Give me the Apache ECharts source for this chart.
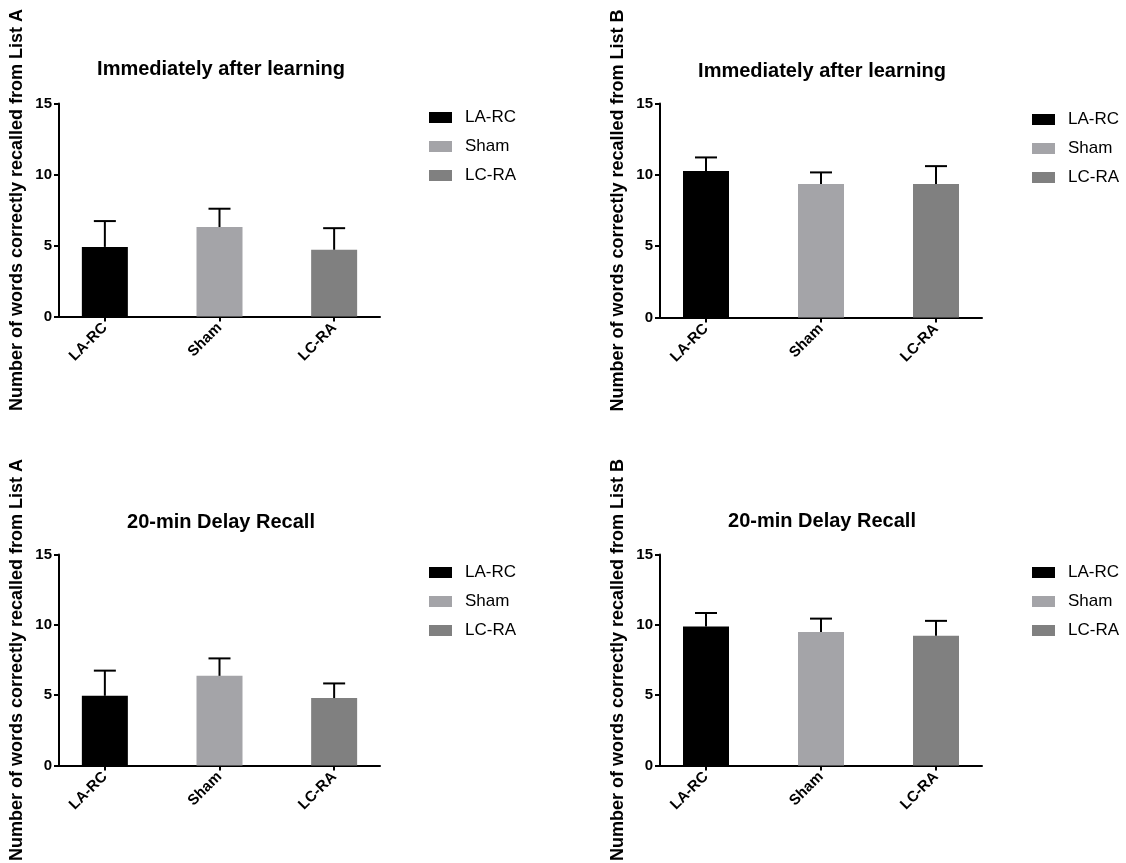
<!DOCTYPE html>
<html>
<head>
<meta charset="utf-8">
<script src="https://cdn.jsdelivr.net/npm/echarts@6/dist/echarts.min.js"></script>
<style>
  html, body { margin: 0; padding: 0; background: #fff; }
  #chart { width: 1126px; height: 863px; }
</style>
</head>
<body>
<div id="chart"></div>
<script>
// ---- data ----
const categories = ['LA-RC', 'Sham', 'LC-RA'];
const yTicks = [0, 5, 10, 15];

const panelTitles = ['Immediately after learning', 'Immediately after learning', '20-min Delay Recall', '20-min Delay Recall'];
const yAxisNames = [
  'Number of words correctly recalled from List A',
  'Number of words correctly recalled from List B',
  'Number of words correctly recalled from List A',
  'Number of words correctly recalled from List B'
];

const listAImmediateMean = [4.9, 6.3, 4.7];
const listAImmediateErr  = [1.82, 1.29, 1.52];
const listBImmediateMean = [10.27, 9.36, 9.36];
const listBImmediateErr  = [0.95, 0.81, 1.25];
const listADelayMean     = [4.95, 6.37, 4.79];
const listADelayErr      = [1.79, 1.24, 1.04];
const listBDelayMean     = [9.88, 9.49, 9.23];
const listBDelayErr      = [0.96, 0.95, 1.05];

const panelMeans = [listAImmediateMean, listBImmediateMean, listADelayMean, listBDelayMean];
const panelErrs  = [listAImmediateErr, listBImmediateErr, listADelayErr, listBDelayErr];

// ---- styling / layout ----
const barColors = ['#000000', '#a4a4a8', '#808080'];
const FONT = '"Liberation Sans", Arial, sans-serif';
const grids = [
  { left: 59,  top: 103.5, width: 321, height: 213 },
  { left: 660, top: 103.5, width: 322, height: 214 },
  { left: 59,  top: 554.5, width: 321, height: 215 },
  { left: 660, top: 554.5, width: 322, height: 215 }
];
const titlePos = [
  { left: 221, top: 59 },
  { left: 822, top: 61 },
  { left: 221, top: 512 },
  { left: 822, top: 511 }
];
const legendPos = [
  { left: 424, top: 104 },
  { left: 1027, top: 106 },
  { left: 424, top: 559 },
  { left: 1027, top: 559 }
];

const chart = echarts.init(document.getElementById('chart'));

const option = {
  backgroundColor: '#ffffff',
  animation: false,
  title: panelTitles.map((t, i) => ({
    text: t,
    left: titlePos[i].left,
    top: titlePos[i].top,
    padding: 0,
    textAlign: 'center',
    textStyle: { fontFamily: FONT, fontWeight: 'bold', fontSize: 20, color: '#000' }
  })),
  legend: legendPos.map(p => ({
    data: categories,
    orient: 'vertical',
    left: p.left,
    top: p.top,
    icon: 'rect',
    itemWidth: 23,
    itemHeight: 11,
    itemGap: 12,
    selectedMode: false,
    textStyle: { fontFamily: FONT, fontSize: 17, color: '#000', padding: [0, 0, 0, 8] }
  })),
  grid: grids.map(g => Object.assign({ containLabel: false }, g)),
  xAxis: grids.map((g, i) => ({
    type: 'value',
    gridIndex: i,
    min: -0.4,
    max: 2.4,
    splitLine: { show: false },
    axisLine: { show: true, onZero: false, lineStyle: { color: '#000', width: 2 } },
    axisTick: { show: true, customValues: [0, 1, 2], length: 5, lineStyle: { color: '#000', width: 2 } },
    axisLabel: {
      customValues: [0, 1, 2],
      formatter: v => categories[Math.round(v)] || '',
      rotate: 45,
      margin: 9,
      fontFamily: FONT, fontWeight: 'bold', fontSize: 15, color: '#000'
    }
  })),
  yAxis: grids.map((g, i) => ({
    type: 'value',
    gridIndex: i,
    min: 0,
    max: 15,
    interval: 5,
    name: yAxisNames[i],
    nameLocation: 'middle',
    nameGap: 33,
    nameTextStyle: { fontFamily: FONT, fontWeight: 'bold', fontSize: 18, color: '#000' },
    splitLine: { show: false },
    axisLine: { show: true, onZero: false, lineStyle: { color: '#000', width: 2 } },
    axisTick: { show: true, length: 5, lineStyle: { color: '#000', width: 2 } },
    axisLabel: { margin: 7, fontFamily: FONT, fontWeight: 'bold', fontSize: 15, color: '#000' }
  })),
  series: []
};

panelMeans.forEach((means, p) => {
  categories.forEach((cat, c) => {
    option.series.push({
      type: 'bar',
      name: cat,
      xAxisIndex: p,
      yAxisIndex: p,
      barWidth: 46,
      barGap: '-100%',
      itemStyle: { color: barColors[c] },
      data: [[c, means[c]]],
      z: 2
    });
  });
  option.series.push({
    type: 'custom',
    name: 'err' + p,
    xAxisIndex: p,
    yAxisIndex: p,
    z: 3,
    encode: { x: 0, y: 1 },
    data: means.map((m, c) => [c, m, panelErrs[p][c]]),
    renderItem: function (params, api) {
      const x = api.value(0), m = api.value(1), e = api.value(2);
      const p0 = api.coord([x, m]);
      const p1 = api.coord([x, m + e]);
      const half = 11;
      return {
        type: 'group',
        children: [
          { type: 'line', shape: { x1: p0[0], y1: p0[1], x2: p1[0], y2: p1[1] }, style: { stroke: '#000', lineWidth: 2 } },
          { type: 'line', shape: { x1: p1[0] - half, y1: p1[1], x2: p1[0] + half, y2: p1[1] }, style: { stroke: '#000', lineWidth: 2 } }
        ]
      };
    }
  });
});

chart.setOption(option);
</script>
</body>
</html>
